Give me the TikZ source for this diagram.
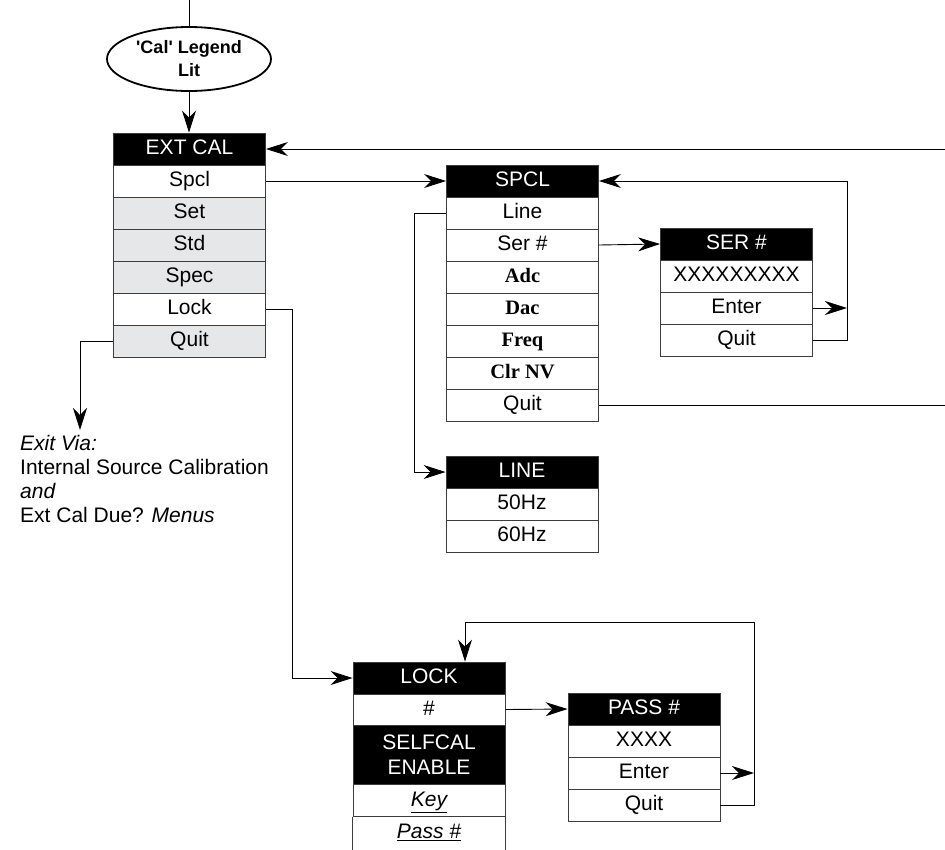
\documentclass[tikz,border=0pt]{standalone}
\usepackage{fontspec}
\setmainfont{Liberation Sans}
\newfontfamily\tmsfont{Liberation Serif}
\usetikzlibrary{shapes.geometric,arrows.meta}
\definecolor{lg}{RGB}{230,231,233}
\definecolor{edge}{RGB}{60,60,60}
\tikzset{
  >={Stealth[length=22pt,width=14pt,inset=7pt]},
  cell/.style={draw=edge,line width=0.9pt,minimum width=152pt,minimum height=32pt,inner sep=0pt,
    text height=15pt,text depth=4pt,font=\fontsize{21}{25}\selectfont},
  hdr/.style={cell,fill=black,text=white},
  wrow/.style={cell,fill=white},
  grayrow/.style={cell,fill=lg},
  brow/.style={cell,fill=white,font=\tmsfont\bfseries\fontsize{20.5}{24}\selectfont},
  conn/.style={draw=black,line width=0.9pt},
}
\begin{document}
\begin{tikzpicture}[x=1pt,y=-1pt]
\useasboundingbox (0,0) rectangle (945,849);
% ellipse
\node[ellipse,draw=black,line width=1.8pt,minimum width=164pt,minimum height=64pt,inner sep=0pt,
  font=\bfseries\fontsize{18}{23}\selectfont,align=center] (ell) at (189,59) {\textquotesingle Cal\textquotesingle{} Legend\\Lit};
\coordinate (topin) at (189,0);
% EXT CAL
\node[hdr]  (exthead) at (189.5,149) {EXT CAL};
\node[wrow] (extspcl) at (189.5,181) {Spcl};
\node[grayrow] (extset)  at (189.5,213) {Set};
\node[grayrow] (extstd)  at (189.5,245) {Std};
\node[grayrow] (extspec) at (189.5,277) {Spec};
\node[wrow] (extlock) at (189.5,309) {Lock};
\node[grayrow] (extquit) at (189.5,341) {Quit};
% SPCL
\node[hdr]  (spclhead) at (522.5,181) {SPCL};
\node[wrow] (spclline) at (522.5,213) {Line};
\node[wrow] (spclser)  at (522.5,245) {Ser \#};
\node[brow] (spcladc)  at (522.5,277) {Adc};
\node[brow] (spcldac)  at (522.5,309) {Dac};
\node[brow] (spclfreq) at (522.5,341) {Freq};
\node[brow] (spclclr)  at (522.5,373) {Clr NV};
\node[wrow] (spclquit) at (522.5,405) {Quit};
% SER #
\node[hdr]  (serhead)  at (736.5,244) {SER \#};
\node[wrow] (serx)     at (736.5,276) {XXXXXXXXX};
\node[wrow] (serenter) at (736.5,308) {Enter};
\node[wrow] (serquit)  at (736.5,340) {Quit};
% LINE
\node[hdr]  (linehead) at (522,472) {LINE};
\node[wrow] (line50)   at (522,504) {50Hz};
\node[wrow] (line60)   at (522,536) {60Hz};
% LOCK
\node[hdr]  (lockhead) at (429,678) {LOCK};
\node[wrow,minimum height=31pt] (lockhash) at (429,709.5) {\#};
\node[hdr,minimum height=59pt,align=center,text height=,text depth=,font=\fontsize{21}{25}\selectfont] (lockself) at (429,754.5) {SELFCAL\\ENABLE};
\node[wrow,minimum height=33pt] (lockkey) at (429,800.5) {\underline{\itshape Key}};
\node[wrow,draw=none,minimum height=32pt] (lockpass) at (429,833) {\underline{\itshape Pass \#}};
\draw[edge,line width=0.9pt] (lockpass.north west) -- ++(0,40) (lockpass.north east) -- ++(0,40) (lockpass.north west) -- (lockpass.north east);
% PASS #
\node[hdr]  (passhead)  at (644,709) {PASS \#};
\node[wrow] (passx)     at (644,741) {XXXX};
\node[wrow] (passenter) at (644,773) {Enter};
\node[wrow] (passquit)  at (644,805) {Quit};
% exit text
\node[anchor=north west,inner sep=0pt,align=left,font=\fontsize{21}{24}\selectfont] (exittext) at (20,435)
  {\itshape Exit Via:\\Internal Source Calibration\\\itshape and\\Ext Cal Due? \itshape Menus};
% coordinates
\coordinate (rin) at (945,149);
\coordinate (rquit) at (945,405);
\coordinate (sloop) at (847,181);
\coordinate (lineturn) at (414,213);
\coordinate (exitturn) at (80,341);
\coordinate (exittip) at (80,430);
\coordinate (lockturn) at (292,309);
\coordinate (ploop) at (754,622);
\coordinate (pdown) at (465,622);
% connectors
\draw[conn] (topin) -- (ell.north);
\draw[conn,->] (ell.south) -- (ell.south |- exthead.north);
\draw[conn,->] (rin) -- (exthead.east);
\draw[conn,->] (extspcl.east) -- (spclhead.west);
\draw[conn,->] (spclser.east) -- (serhead.west);
\draw[conn,->] (serenter.east) -- (serenter.east -| sloop);
\draw[conn,->] (serquit.east) -- (serquit.east -| sloop) -- (sloop) -- (spclhead.east);
\draw[conn] (spclquit.east) -- (rquit);
\draw[conn,->] (spclline.west) -- (lineturn) |- (linehead.west);
\draw[conn,->] (extquit.west) -- (exitturn) -- (exittip);
\draw[conn,->] (extlock.east) -- (lockturn) |- (lockhead.west);
\draw[conn,->] (lockhash.east) -- (passhead.west);
\draw[conn,->] (passenter.east) -- (passenter.east -| ploop);
\draw[conn,->] (passquit.east) -- (passquit.east -| ploop) -- (ploop) -- (pdown) -- (pdown |- lockhead.north);
\end{tikzpicture}
\end{document}
